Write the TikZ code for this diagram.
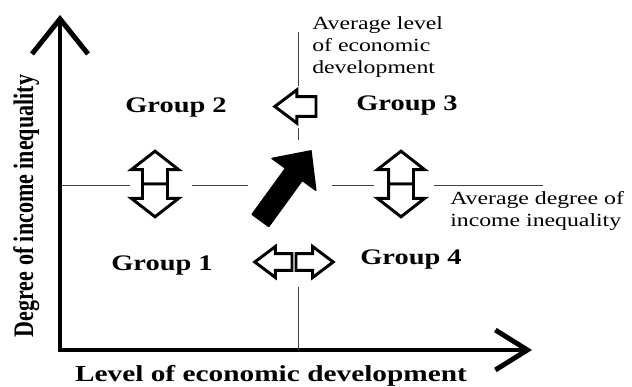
\documentclass[tikz,border=0pt]{standalone}
\usepackage{fontspec}
\usepackage{tikz}
\newfontfamily\labelfont{Liberation Serif}[FakeStretch=1.28]
\newfontfamily\axisfont{Liberation Serif}[FakeStretch=0.78]
\usetikzlibrary{shapes.arrows, arrows.meta}

\begin{document}
\begin{tikzpicture}[
   x=0.025cm, y=-0.025cm,
   axis/.style = {line width=3.5pt, line join=miter},
   avg/.style = {draw=black!75, line width=0.7pt},
   group/.style = {font=\labelfont\bfseries\fontsize{15.8}{19}\selectfont, inner sep=0pt},
   note/.style = {font=\labelfont\fontsize{13.2}{15.6}\selectfont, align=left, inner sep=0pt},
   hollow/.style = {single arrow, draw, fill=white, line width=2.1pt, line join=miter, inner xsep=0pt, outer sep=0pt, anchor=tail},
   vhalf/.style = {hollow, inner ysep=0.275cm, single arrow head extend=0.275cm, single arrow tip angle=104, minimum height=0.82cm},
   hhalf/.style = {hollow, inner ysep=0.17cm, single arrow head extend=0.18cm, single arrow tip angle=74, minimum height=0.93cm},
   move/.style = {hollow, inner ysep=0.21cm, single arrow head extend=0.17cm, single arrow tip angle=74, minimum height=1.03cm},
   trend/.style = {single arrow, fill=black, draw, line width=1pt, line join=round, inner xsep=0pt, inner ysep=0.24cm, single arrow head extend=0.42cm, single arrow tip angle=86, minimum height=2.15cm, anchor=tail}
   ]
  \useasboundingbox (0,0) rectangle (632,387);

  % Axes
  \coordinate (O) at (60,350);
  \coordinate (ytop) at (60,15);
  \coordinate (xend) at (532,350);
  \draw[axis, {Straight Barb[length=0.875cm,width=1.4cm]}-{Straight Barb[length=0.8cm,width=1.0cm]}] (ytop) -- (O) -- (xend);
  \node[font=\axisfont\bfseries\fontsize{20.1}{24}\selectfont, rotate=90, anchor=base, inner sep=0pt] (ylabel) at (33,206) {Degree of income inequality};
  \node[font=\labelfont\bfseries\fontsize{16.3}{19}\selectfont, anchor=base, inner sep=0pt] (xlabel) at (271,381) {Level of economic development};

  % Average lines
  \draw[avg] (298,32) -- (298,86) (298,128) -- (298,140) (298,287) -- (298,350);
  \draw[avg] (62,185) -- (130,185) (192,185) -- (248,185) (332,185) -- (374,185) (434,185) -- (543,185);
  \node[note, anchor=north west] (devnote) at (312,16) {Average level\\of economic\\development};
  \node[note, anchor=north west] (ineqnote) at (450,191) {Average degree of\\income inequality};

  % Groups
  \node[group] (group2) at (176,108) {Group 2};
  \node[group] (group3) at (407,106) {Group 3};
  \node[group] (group1) at (162,266) {Group 1};
  \node[group] (group4) at (411,260) {Group 4};

  % Moves between groups
  \node[vhalf, rotate=90] (up2) at (155,184) {};
  \node[vhalf, rotate=-90] (down1) at (155,184) {};
  \node[vhalf, rotate=90] (up3) at (401,184) {};
  \node[vhalf, rotate=-90] (down4) at (401,184) {};
  \node[hhalf, rotate=180] (left1) at (292,262) {};
  \node[hhalf] (right4) at (296,262) {};
  \node[move, rotate=180] (left2) at (316,106.5) {};
  \node[trend, rotate=54] (trend) at (260,221) {};
\end{tikzpicture}
\end{document}
